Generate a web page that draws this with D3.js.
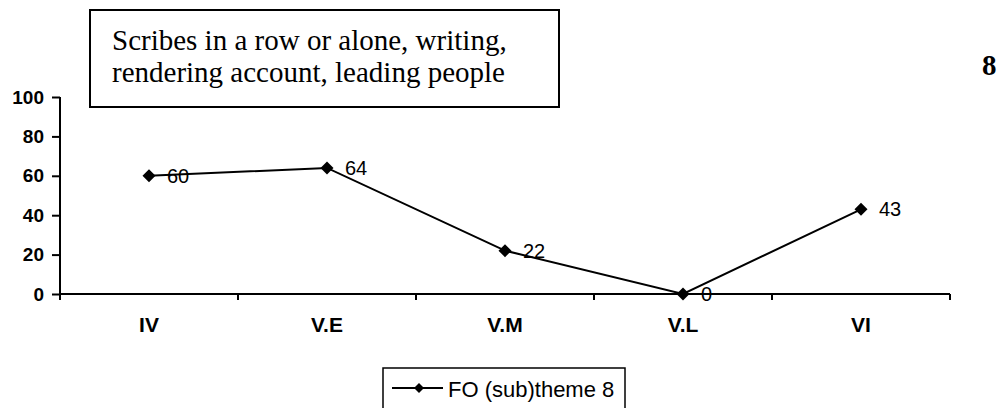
<!DOCTYPE html>
<html>
<head>
<meta charset="utf-8">
<script src="https://cdn.jsdelivr.net/npm/d3@7"></script>
<style>
  body { margin: 0; background: #fff; }
  svg { display: block; }
</style>
</head>
<body>
<div id="app"></div>
<script>
// chart data
const categories = ['IV', 'V.E', 'V.M', 'V.L', 'VI'];
const values = [60, 64, 22, 0, 43];
const yTicks = [0, 20, 40, 60, 80, 100];
const seriesName = 'FO (sub)theme 8';
const titleLines = ['Scribes in a row or alone, writing,', 'rendering account, leading people'];
const pageNumber = '8';

const width = 1003, height = 408;

const svg = d3.select('#app')
  .append('svg')
  .attr('width', width)
  .attr('height', height);

// scales
const x = d3.scaleBand()
  .domain(categories)
  .range([60, 950]);

const y = d3.scaleLinear()
  .domain([0, 100])
  .range([294, 97]);

// y axis
const yAxis = svg.append('g')
  .attr('transform', 'translate(60,0)')
  .call(d3.axisLeft(y).tickValues(yTicks).tickSize(8).tickPadding(8));

yAxis.select('.domain').attr('stroke', '#000').attr('stroke-width', 2)
  .attr('d', 'M0,' + y(100) + 'V' + y(0));
yAxis.selectAll('.tick line').attr('stroke', '#000').attr('stroke-width', 2);
yAxis.selectAll('.tick text')
  .attr('font-family', 'Liberation Sans, Arial, sans-serif')
  .attr('font-size', '19px')
  .attr('font-weight', 'bold')
  .attr('fill', '#000');

// x axis, ticks between categories
const xAxis = svg.append('g')
  .attr('transform', 'translate(0,' + y(0) + ')');

xAxis.append('line')
  .attr('x1', 60).attr('x2', 950)
  .attr('stroke', '#000').attr('stroke-width', 2);

const tickPositions = categories.map(c => x(c)).concat([x.range()[1]]);
xAxis.selectAll('.xtick')
  .data(tickPositions)
  .enter().append('line')
  .attr('x1', d => d).attr('x2', d => d)
  .attr('y1', 0).attr('y2', 6)
  .attr('stroke', '#000').attr('stroke-width', 2);

xAxis.selectAll('.xlabel')
  .data(categories)
  .enter().append('text')
  .attr('x', d => x(d) + x.bandwidth() / 2)
  .attr('y', 38)
  .attr('text-anchor', 'middle')
  .attr('font-family', 'Liberation Sans, Arial, sans-serif')
  .attr('font-size', '21px')
  .attr('font-weight', 'bold')
  .text(d => d);

// series line
const cx = (d, i) => x(categories[i]) + x.bandwidth() / 2;

const line = d3.line()
  .x(cx)
  .y(d => y(d));

svg.append('path')
  .datum(values)
  .attr('d', line)
  .attr('fill', 'none')
  .attr('stroke', '#000')
  .attr('stroke-width', 2);

const diamond = r => 'M0,' + (-r) + 'L' + r + ',0L0,' + r + 'L' + (-r) + ',0Z';

svg.selectAll('.marker')
  .data(values)
  .enter().append('path')
  .attr('transform', (d, i) => 'translate(' + cx(d, i) + ',' + y(d) + ')')
  .attr('d', diamond(6.5))
  .attr('fill', '#000');

svg.selectAll('.vlabel')
  .data(values)
  .enter().append('text')
  .attr('x', (d, i) => cx(d, i) + 18)
  .attr('y', d => y(d) + 7)
  .attr('font-family', 'Liberation Sans, Arial, sans-serif')
  .attr('font-size', '20px')
  .attr('fill', '#000')
  .text(d => d);

// title box
svg.append('rect')
  .attr('x', 90).attr('y', 10)
  .attr('width', 469).attr('height', 97)
  .attr('fill', '#fff')
  .attr('stroke', '#000')
  .attr('stroke-width', 2);

svg.selectAll('.title')
  .data(titleLines)
  .enter().append('text')
  .attr('x', 112)
  .attr('y', (d, i) => 50 + i * 32)
  .attr('font-family', 'Liberation Serif, Times New Roman, serif')
  .attr('font-size', '29px')
  .attr('fill', '#000')
  .text(d => d);

svg.append('text')
  .attr('x', 982)
  .attr('y', 75)
  .attr('font-family', 'Liberation Serif, Times New Roman, serif')
  .attr('font-size', '29px')
  .attr('font-weight', 'bold')
  .text(pageNumber);

// legend
const legend = svg.append('g');
legend.append('rect')
  .attr('x', 383).attr('y', 368)
  .attr('width', 242).attr('height', 50)
  .attr('fill', '#fff')
  .attr('stroke', '#000')
  .attr('stroke-width', 1.5);

legend.append('line')
  .attr('x1', 392).attr('x2', 443)
  .attr('y1', 388).attr('y2', 388)
  .attr('stroke', '#000').attr('stroke-width', 2);

legend.append('path')
  .attr('transform', 'translate(419,388)')
  .attr('d', diamond(5))
  .attr('fill', '#000');

legend.append('text')
  .attr('x', 448)
  .attr('y', 397)
  .attr('font-family', 'Liberation Sans, Arial, sans-serif')
  .attr('font-size', '22px')
  .text(seriesName);
</script>
</body>
</html>
